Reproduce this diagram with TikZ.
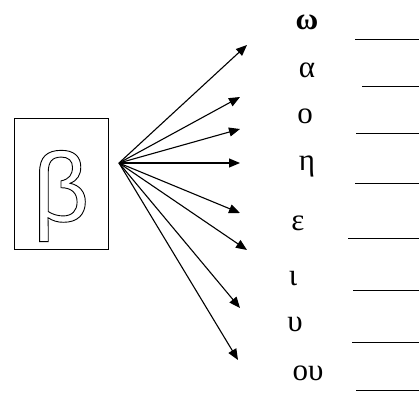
\documentclass[tikz,border=0pt]{standalone}
\usepackage{fontspec}
\setmainfont{Liberation Serif}
\newfontfamily\betafont{Liberation Sans}
\usetikzlibrary{arrows.meta}
\tikzset{
  arr/.style={line width=1.1pt,-{Triangle[length=11pt,width=9pt]}},
  greek/.style={font=\fontsize{31}{31}\selectfont,inner sep=0pt,anchor=center},
  blank/.style={line width=1pt},
}
\newcommand{\outlinetext}[1]{\special{pdf:literal direct 1 Tr 0.9 w}#1\special{pdf:literal direct 0 Tr}}
\begin{document}
\begin{tikzpicture}[x=1pt,y=-1pt]
\useasboundingbox (0,0) rectangle (419,394);
\node[draw,line width=1pt,minimum width=94pt,minimum height=131pt,inner sep=0pt] (box) at (61,183.5) {};
\node[inner sep=0pt,font=\betafont\fontsize{98}{98}\selectfont] (beta) at (61,196) {\outlinetext{β}};
\coordinate (src) at (119,163);
\coordinate (t1) at (247,45);
\coordinate (t2) at (240,97);
\coordinate (t3) at (240,129);
\coordinate (t4) at (240,163);
\coordinate (t5) at (240,213);
\coordinate (t6) at (247,250);
\coordinate (t7) at (240,308);
\coordinate (t8) at (238,360);
\foreach \i in {1,...,8} \draw[arr] (src) -- (t\i);
\node[greek,font=\bfseries\fontsize{31}{31}\selectfont] (l1) at (307,22) {ω};
\node[greek] (l2) at (307,70) {α};
\node[greek] (l3) at (305,116) {ο};
\node[greek] (l4) at (307,166) {η};
\node[greek] (l5) at (298,223) {ε};
\node[greek] (l6) at (293,279) {ι};
\node[greek] (l7) at (295,324) {υ};
\node[greek] (l8) at (308,373) {ου};
\draw[blank] (355,39) -- (419,39);
\draw[blank] (362,86) -- (419,86);
\draw[blank] (356,133) -- (419,133);
\draw[blank] (355,183) -- (419,183);
\draw[blank] (348,238) -- (419,238);
\draw[blank] (353,290) -- (419,290);
\draw[blank] (352,342) -- (419,342);
\draw[blank] (356,390) -- (419,390);
\end{tikzpicture}
\end{document}
